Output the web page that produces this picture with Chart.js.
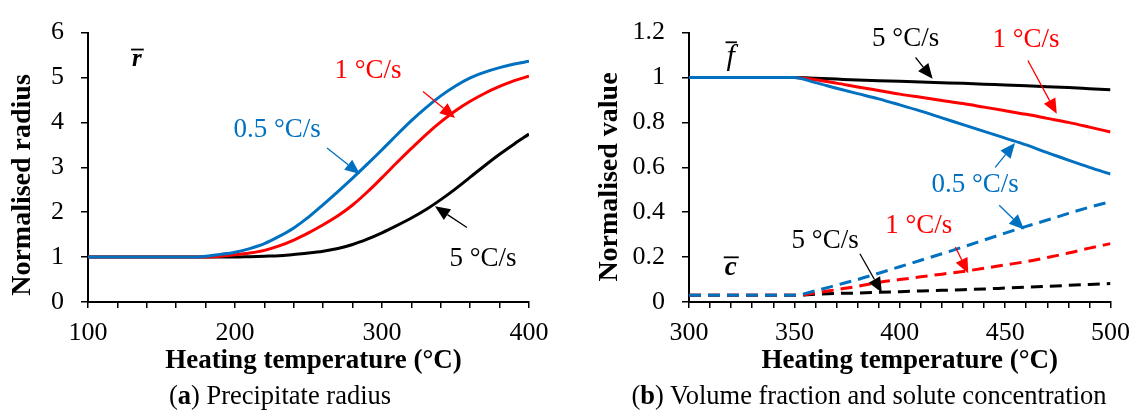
<!DOCTYPE html>
<html>
<head>
<meta charset="utf-8">
<script src="https://cdn.jsdelivr.net/npm/chart.js@4/dist/chart.umd.min.js"></script>
<style>
  html, body { margin: 0; padding: 0; background: #fff; }
  #wrap { position: relative; width: 1140px; height: 412px; overflow: hidden; }
  canvas { position: absolute; top: 0; }
  #chartA { left: 0; }
  #chartB { left: 570px; }
  .caption { position: absolute; top: 380px; font-family: "Liberation Serif", serif; font-size: 26.5px; color: #000; white-space: nowrap; transform: translateX(-50%); }
</style>
</head>
<body>
<div id="wrap">
  <canvas id="chartA" width="560" height="412"></canvas>
  <canvas id="chartB" width="570" height="412"></canvas>
  <div class="caption" style="left:280px">(<b>a</b>) Precipitate radius</div>
  <div class="caption" style="left:869px">(<b>b</b>) Volume fraction and solute concentration</div>
</div>
<script>
// Dados do grafico (a) - raio normalizado
var tempsA = [100, 110, 120, 130, 140, 150, 160, 170, 180, 190, 200, 210, 220, 230, 240, 250,
              260, 270, 280, 290, 300, 310, 320, 330, 340, 350, 360, 370, 380, 390, 400];
var radius05 = [1.00, 1.00, 1.00, 1.00, 1.00, 1.00, 1.00, 1.00, 1.02, 1.06, 1.11, 1.19, 1.30, 1.46, 1.65, 1.89,
                2.17, 2.46, 2.76, 3.07, 3.39, 3.72, 4.04, 4.33, 4.59, 4.81, 4.99, 5.12, 5.22, 5.30, 5.36];
var radius1 = [1.00, 1.00, 1.00, 1.00, 1.00, 1.00, 1.00, 1.00, 1.00, 1.02, 1.05, 1.09, 1.15, 1.25, 1.38, 1.54,
               1.72, 1.92, 2.16, 2.45, 2.77, 3.10, 3.42, 3.73, 4.01, 4.26, 4.47, 4.65, 4.80, 4.93, 5.03];
var radius5 = [1.00, 1.00, 1.00, 1.00, 1.00, 1.00, 1.00, 1.00, 1.00, 1.00, 1.00, 1.01, 1.02, 1.03, 1.06, 1.09,
               1.13, 1.19, 1.28, 1.40, 1.54, 1.70, 1.87, 2.06, 2.28, 2.52, 2.78, 3.04, 3.29, 3.52, 3.74];

// Dados do grafico (b) - fracao volumetrica e concentracao
var tempsB = [300, 310, 320, 330, 340, 350, 360, 370, 380, 390, 400, 410, 420, 430, 440, 450, 460, 470, 480, 490, 500];
var frac05 = [1, 1, 1, 1, 1, 1, 0.977, 0.952, 0.928, 0.905, 0.878, 0.850, 0.820, 0.790, 0.760, 0.730, 0.700, 0.665, 0.632, 0.600, 0.570];
var frac1 = [1, 1, 1, 1, 1, 1, 0.990, 0.975, 0.958, 0.942, 0.926, 0.912, 0.898, 0.884, 0.868, 0.852, 0.836, 0.818, 0.800, 0.779, 0.757];
var frac5 = [1, 1, 1, 1, 1, 1, 0.997, 0.993, 0.989, 0.986, 0.983, 0.980, 0.977, 0.974, 0.970, 0.967, 0.963, 0.959, 0.955, 0.950, 0.945];
var conc05 = [0.03, 0.03, 0.03, 0.03, 0.03, 0.03, 0.050, 0.075, 0.100, 0.128, 0.157, 0.186, 0.215, 0.245, 0.276, 0.307, 0.337, 0.365, 0.395, 0.422, 0.447];
var conc1 = [0.03, 0.03, 0.03, 0.03, 0.03, 0.03, 0.040, 0.055, 0.070, 0.087, 0.100, 0.112, 0.124, 0.136, 0.150, 0.165, 0.180, 0.198, 0.218, 0.240, 0.260];
var conc5 = [0.03, 0.03, 0.03, 0.03, 0.03, 0.03, 0.035, 0.038, 0.040, 0.043, 0.046, 0.049, 0.052, 0.055, 0.058, 0.062, 0.066, 0.070, 0.074, 0.078, 0.082];

var ticksA = [100, 200, 300, 400];
var ticksB = [300, 350, 400, 450, 500];

var BLUE = '#0070C0';
var RED = '#FF0000';
var BLACK = '#000000';
var SERIF = '"Liberation Serif", "Times New Roman", serif';

function pares(xs, ys) {
    return xs.map(function(x, i) { return { x: x, y: ys[i] }; });
}

function serie(xs, ys, cor, tracejado) {
    return {
        data: pares(xs, ys),
        borderColor: cor,
        borderWidth: 3,
        borderDash: tracejado ? [12, 7] : [],
        pointRadius: 0,
        fill: false,
        cubicInterpolationMode: 'monotone'
    };
}

// Textos, setas e titulos desenhados sobre o grafico
var anotacoes = {
    id: 'anotacoes',
    afterDraw: function(chart) {
        var cfg = chart.options.plugins.anotacoes;
        if (!cfg) return;
        var ctx = chart.ctx;
        var sx = chart.scales.x, sy = chart.scales.y;
        ctx.save();
        (cfg.setas || []).forEach(function(s) {
            var x1 = sx.getPixelForValue(s.de[0]), y1 = sy.getPixelForValue(s.de[1]);
            var x2 = sx.getPixelForValue(s.ate[0]), y2 = sy.getPixelForValue(s.ate[1]);
            var ang = Math.atan2(y2 - y1, x2 - x1);
            var L = 15, W = 6.5;
            var bx = x2 - L * Math.cos(ang), by = y2 - L * Math.sin(ang);
            ctx.strokeStyle = s.cor;
            ctx.lineWidth = 1.3;
            ctx.beginPath();
            ctx.moveTo(x1, y1);
            ctx.lineTo(bx, by);
            ctx.stroke();
            ctx.fillStyle = s.cor;
            ctx.beginPath();
            ctx.moveTo(x2, y2);
            ctx.lineTo(bx + W * Math.sin(ang), by - W * Math.cos(ang));
            ctx.lineTo(bx - W * Math.sin(ang), by + W * Math.cos(ang));
            ctx.closePath();
            ctx.fill();
        });
        (cfg.textos || []).forEach(function(t) {
            var x = sx.getPixelForValue(t.pos[0]), y = sy.getPixelForValue(t.pos[1]);
            ctx.font = (t.estilo || '') + ' ' + (t.tam || 27) + 'px ' + SERIF;
            ctx.fillStyle = t.cor;
            ctx.textAlign = 'center';
            ctx.textBaseline = 'middle';
            ctx.fillText(t.texto, x, y);
            if (t.barra) {
                var w = ctx.measureText(t.texto).width;
                ctx.strokeStyle = t.cor;
                ctx.lineWidth = 1.8;
                ctx.beginPath();
                ctx.moveTo(x - w / 2 - 1, y - t.barra);
                ctx.lineTo(x + w / 2 + 2, y - t.barra);
                ctx.stroke();
            }
        });
        // titulos dos eixos
        var area = chart.chartArea;
        ctx.fillStyle = '#000';
        ctx.font = 'bold 27px ' + SERIF;
        ctx.textAlign = 'center';
        ctx.textBaseline = 'middle';
        ctx.fillText(cfg.tituloX, (area.left + area.right) / 2 + cfg.desvioX, 361);
        ctx.translate(cfg.tituloYx, cfg.tituloYy);
        ctx.rotate(-Math.PI / 2);
        ctx.font = 'bold 28px ' + SERIF;
        ctx.fillText(cfg.tituloY, 0, 0);
        ctx.restore();
    }
};

function eixos(xmin, xmax, passoX, rotulosX, ymax, passoY, larguraY, fmtY) {
    return {
        x: {
            type: 'linear',
            min: xmin,
            max: xmax,
            afterFit: function(s) { s.height = 40; },
            afterBuildTicks: function(s) {
                var t = [];
                for (var v = xmin; v <= xmax; v += passoX) t.push({ value: v });
                s.ticks = t;
            },
            ticks: {
                autoSkip: false,
                maxRotation: 0,
                padding: 10,
                color: '#000',
                font: { family: SERIF, size: 26 },
                callback: function(v) { return rotulosX.indexOf(v) >= 0 ? String(v) : ''; }
            },
            grid: { display: true, drawOnChartArea: false, drawTicks: true, tickLength: 6, color: '#000', lineWidth: 1.5 },
            border: { display: true, color: '#000', width: 2 }
        },
        y: {
            min: 0,
            max: ymax,
            afterFit: function(s) { s.width = larguraY; },
            ticks: {
                stepSize: passoY,
                padding: 17,
                color: '#000',
                font: { family: SERIF, size: 26 },
                callback: fmtY
            },
            grid: { display: true, drawOnChartArea: false, drawTicks: true, tickLength: 7, color: '#000', lineWidth: 1.5 },
            border: { display: true, color: '#000', width: 2 }
        }
    };
}

// Grafico (a)
new Chart(document.getElementById('chartA'), {
    type: 'line',
    data: {
        datasets: [
            serie(tempsA, radius05, BLUE, false),
            serie(tempsA, radius1, RED, false),
            serie(tempsA, radius5, BLACK, false)
        ]
    },
    options: {
        responsive: false,
        animation: false,
        layout: { padding: { left: 0, right: 31, top: 24, bottom: 70 } },
        scales: eixos(100, 400, 20, ticksA, 6, 1, 88, function(v) { return String(v); }),
        plugins: {
            legend: { display: false },
            tooltip: { enabled: false },
            anotacoes: {
                tituloX: 'Heating temperature (°C)', desvioX: 5,
                tituloY: 'Normalised radius', tituloYx: 23, tituloYy: 185,
                textos: [
                    { texto: '1 °C/s', pos: [290.5, 5.14], cor: RED },
                    { texto: '0.5 °C/s', pos: [228.6, 3.84], cor: BLUE },
                    { texto: '5 °C/s', pos: [368.7, 0.95], cor: BLACK },
                    { texto: 'r', pos: [133.3, 5.40], cor: BLACK, estilo: 'italic bold', tam: 25, barra: 10 }
                ],
                setas: [
                    { de: [327.9, 4.69], ate: [349.7, 4.10], cor: RED },
                    { de: [262.6, 3.43], ate: [285.0, 2.85], cor: BLUE },
                    { de: [357.8, 1.66], ate: [336.0, 2.13], cor: BLACK }
                ]
            }
        }
    },
    plugins: [anotacoes]
});

// Grafico (b)
new Chart(document.getElementById('chartB'), {
    type: 'line',
    data: {
        datasets: [
            serie(tempsB, frac05, BLUE, false),
            serie(tempsB, frac1, RED, false),
            serie(tempsB, frac5, BLACK, false),
            serie(tempsB, conc05, BLUE, true),
            serie(tempsB, conc1, RED, true),
            serie(tempsB, conc5, BLACK, true)
        ]
    },
    options: {
        responsive: false,
        animation: false,
        layout: { padding: { left: 0, right: 27, top: 24, bottom: 70 } },
        scales: eixos(300, 500, 10, ticksB, 1.2, 0.2, 119, function(v) { return String(Number(v.toFixed(1))); }),
        plugins: {
            legend: { display: false },
            tooltip: { enabled: false },
            anotacoes: {
                tituloX: 'Heating temperature (°C)', desvioX: 10,
                tituloY: 'Normalised value', tituloYx: 40, tituloYy: 177,
                textos: [
                    { texto: '5 °C/s', pos: [402.8, 1.171], cor: BLACK },
                    { texto: '1 °C/s', pos: [459.9, 1.167], cor: RED },
                    { texto: '0.5 °C/s', pos: [435.8, 0.522], cor: BLUE },
                    { texto: '1 °C/s', pos: [409.0, 0.340], cor: RED },
                    { texto: '5 °C/s', pos: [364.6, 0.271], cor: BLACK },
                    { texto: 'f', pos: [319.8, 1.090], cor: BLACK, estilo: 'italic', tam: 30, barra: 15 },
                    { texto: 'c', pos: [319.8, 0.150], cor: BLACK, estilo: 'italic bold', tam: 27, barra: 11 }
                ],
                setas: [
                    { de: [407.5, 1.089], ate: [415.6, 0.994], cor: BLACK },
                    { de: [460.8, 1.076], ate: [474.5, 0.838], cor: RED },
                    { de: [445.3, 0.600], ate: [454.7, 0.708], cor: BLUE },
                    { de: [447.2, 0.431], ate: [459.0, 0.323], cor: BLUE },
                    { de: [426.4, 0.245], ate: [432.5, 0.128], cor: RED },
                    { de: [381.1, 0.215], ate: [391.5, 0.042], cor: BLACK }
                ]
            }
        }
    },
    plugins: [anotacoes]
});
</script>
</body>
</html>
